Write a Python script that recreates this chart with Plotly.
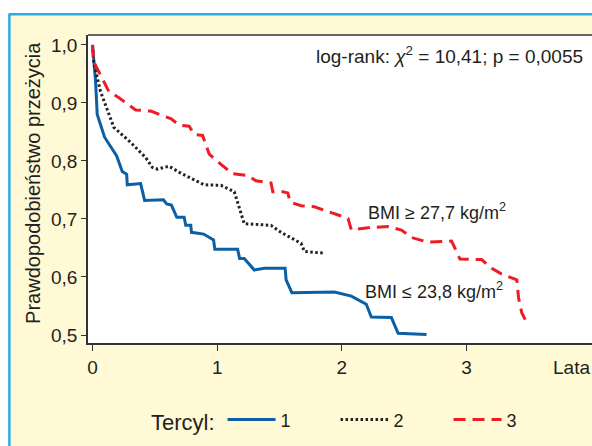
import plotly.graph_objects as go

# Kaplan-Meier curves (years, survival probability)
t1 = [0, 0.024, 0.038, 0.097, 0.193, 0.239, 0.274, 0.279, 0.386, 0.418, 0.569, 0.595,
      0.633, 0.676, 0.735, 0.748, 0.788, 0.794, 0.891, 0.971, 0.981, 1.164, 1.180, 1.217,
      1.298, 1.378, 1.545, 1.553, 1.599, 1.941, 2.076, 2.196, 2.236, 2.397, 2.451, 2.679]
s1 = [1.0, 0.940, 0.880, 0.841, 0.809, 0.782, 0.777, 0.759, 0.761, 0.732, 0.733, 0.726,
      0.724, 0.703, 0.703, 0.689, 0.689, 0.677, 0.674, 0.664, 0.648, 0.648, 0.632, 0.632,
      0.612, 0.615, 0.615, 0.595, 0.573, 0.574, 0.567, 0.553, 0.531, 0.530, 0.503, 0.501]

t2 = [0, 0.010, 0.064, 0.171, 0.306, 0.426, 0.480, 0.521, 0.614, 0.708, 0.895, 1.030,
      1.137, 1.177, 1.217, 1.432, 1.512, 1.673, 1.700, 1.861]
s2 = [1.0, 0.969, 0.920, 0.858, 0.832, 0.806, 0.789, 0.786, 0.791, 0.779, 0.759, 0.758,
      0.747, 0.718, 0.692, 0.689, 0.677, 0.658, 0.644, 0.641]

t3 = [0, 0.010, 0.131, 0.212, 0.346, 0.467, 0.628, 0.694, 0.775, 0.815, 0.883, 0.936,
      1.003, 1.124, 1.245, 1.311, 1.432, 1.446, 1.526, 1.566, 1.587, 1.673, 1.780, 2.009,
      2.049, 2.076, 2.210, 2.371, 2.478, 2.558, 2.693, 2.880, 2.907, 2.947, 3.121, 3.202,
      3.282, 3.403, 3.417, 3.443, 3.484]
s3 = [1.0, 0.971, 0.920, 0.909, 0.888, 0.886, 0.873, 0.862, 0.860, 0.846, 0.844, 0.812,
      0.799, 0.778, 0.775, 0.766, 0.762, 0.747, 0.747, 0.745, 0.729, 0.723, 0.721, 0.705,
      0.701, 0.681, 0.685, 0.687, 0.681, 0.668, 0.660, 0.662, 0.650, 0.631, 0.630, 0.615,
      0.605, 0.595, 0.564, 0.538, 0.521]

x_ticks = [0, 1, 2, 3]
y_ticks = [0.5, 0.6, 0.7, 0.8, 0.9, 1.0]
y_labels = ["0,5", "0,6", "0,7", "0,8", "0,9", "1,0"]

FONT = "Liberation Sans, Arial, sans-serif"
CREAM = "#fff9d6"
FRAME = "#2aace2"

fig = go.Figure()
fig.add_trace(go.Scatter(x=t1, y=s1, mode="lines", name="1",
                         line=dict(color="#0b5fa5", width=3)))
fig.add_trace(go.Scatter(x=t2, y=s2, mode="lines", name="2",
                         line=dict(color="#222222", width=3, dash="2.5px,2.5px")))
fig.add_trace(go.Scatter(x=t3, y=s3, mode="lines", name="3",
                         line=dict(color="#ee1c25", width=3, dash="12px,7px")))

fig.update_layout(
    width=592, height=446,
    margin=dict(l=88, r=0, t=35, b=103),
    paper_bgcolor=CREAM, plot_bgcolor="white",
    font=dict(family=FONT, size=19, color="#231f20"),
    showlegend=True,
    legend=dict(orientation="h", x=0.121, y=-0.253, xanchor="left", yanchor="middle",
                bgcolor="rgba(0,0,0,0)", title=dict(text="Tercyl:", side="left"),
                font=dict(size=18), itemwidth=48, entrywidth=50, traceorder="normal"),
    xaxis=dict(range=[-0.036, 4.006], tickvals=x_ticks, ticks="outside", ticklen=6,
               tickcolor="#333", showgrid=False, zeroline=False,
               showline=True, linecolor="#333", linewidth=1.5),
    yaxis=dict(range=[0.4862, 1.0172], tickvals=y_ticks, ticktext=y_labels,
               ticks="outside", ticklen=5, tickcolor="#333", showgrid=False,
               zeroline=False, showline=True, linecolor="#333", linewidth=1.5),
)

# top edge of the plot frame
fig.add_shape(type="line", xref="paper", yref="paper", x0=0, x1=1, y0=1, y1=1,
              line=dict(color="#333", width=1.5))
# white page strip and blue panel border (left and top)
fig.add_shape(type="rect", xref="paper", yref="paper", x0=-0.2, x1=-0.158, y0=-0.5, y1=1.2,
              fillcolor="white", line=dict(width=0))
fig.add_shape(type="rect", xref="paper", yref="paper", x0=-0.2, x1=1.1, y0=1.0705, y1=1.2,
              fillcolor="white", line=dict(width=0))
fig.add_shape(type="line", xref="paper", yref="paper", x0=-0.156, x1=-0.156, y0=-0.5, y1=1.0675,
              line=dict(color=FRAME, width=2.5))
fig.add_shape(type="line", xref="paper", yref="paper", x0=-0.1575, x1=1.1, y0=1.0672, y1=1.0672,
              line=dict(color=FRAME, width=2.5))

fig.add_annotation(xref="paper", yref="paper", x=0.986, y=0.935, xanchor="right", yanchor="middle",
                   text="log-rank: <i>χ</i><sup>2</sup> = 10,41; p = 0,0055", showarrow=False)
fig.add_annotation(x=2.196, y=0.713, xanchor="left", yanchor="middle",
                   text="BMI ≥ 27,7 kg/m<sup>2</sup>", showarrow=False, font=dict(size=18))
fig.add_annotation(x=2.172, y=0.576, xanchor="left", yanchor="middle",
                   text="BMI ≤ 23,8 kg/m<sup>2</sup>", showarrow=False, font=dict(size=18))
fig.add_annotation(xref="paper", yref="paper", x=-0.109, y=0.52, textangle=-90,
                   xanchor="center", yanchor="middle",
                   text="Prawdopodobieństwo przeżycia", showarrow=False, font=dict(size=20))
fig.add_annotation(xref="paper", yref="paper", x=1.0, y=-0.078, xanchor="right", yanchor="middle",
                   text="Lata", showarrow=False)

# drop the default 8px body margin so the figure fills the window
fig.write_html("out.html", config={"displayModeBar": False},
               post_script="document.body.style.margin = '0';")
